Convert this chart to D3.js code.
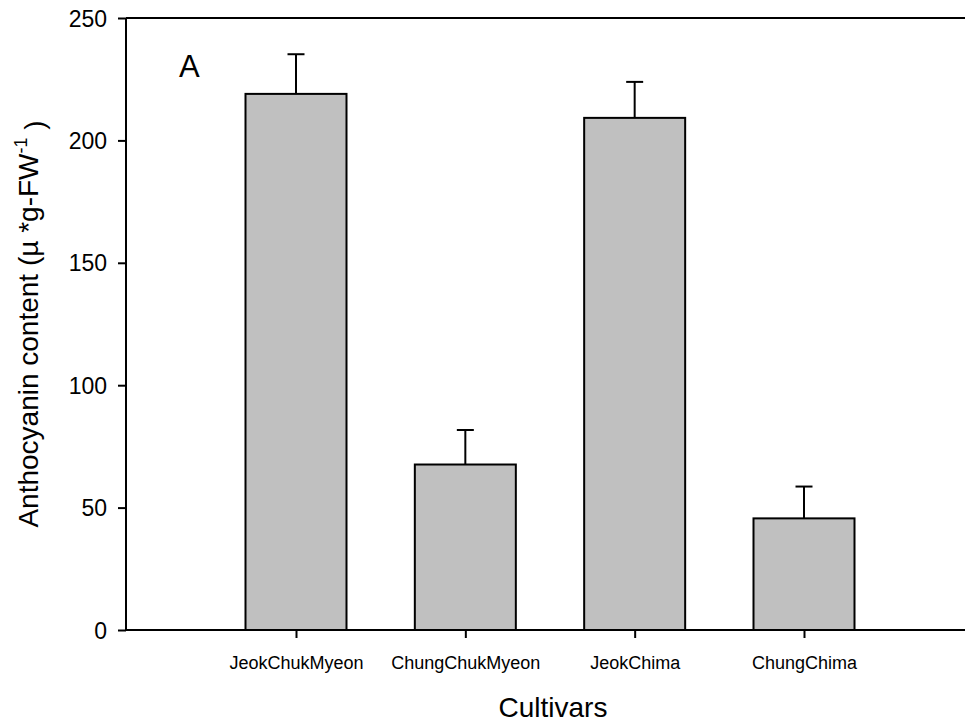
<!DOCTYPE html>
<html>
<head>
<meta charset="utf-8">
<script src="https://cdn.jsdelivr.net/npm/d3@7"></script>
<style>
  body { margin: 0; background: #fff; }
  text { font-family: 'Liberation Sans', Arial, sans-serif; fill: #000; }
</style>
</head>
<body>
<div id="chart"></div>
<script>
const cultivars = ['JeokChukMyeon', 'ChungChukMyeon', 'JeokChima', 'ChungChima']
const means = [219.0, 67.6, 209.2, 45.6]
const errors = [16.2, 14.1, 14.7, 13.0]
const yTicks = [0, 50, 100, 150, 200, 250]

const dimensions = {
  width: 965,
  height: 726,
  margin: { top: 18, right: 0, bottom: 96, left: 126 }
}

const svg = d3.select('#chart').append('svg')
  .attr('width', dimensions.width)
  .attr('height', dimensions.height)

const bottom = dimensions.height - dimensions.margin.bottom

const y = d3.scaleLinear()
  .domain([0, 250])
  .range([bottom, dimensions.margin.top])

const x = d3.scalePoint()
  .domain(cultivars)
  .range([296, 804])

const barWidth = 101
const capWidth = 17

const data = cultivars.map((c, i) => ({ name: c, mean: means[i], err: errors[i] }))

// error bars (upper only), drawn under the bars
svg.append('g')
  .selectAll('g')
  .data(data)
  .join('g')
  .each(function (d) {
    const g = d3.select(this)
    g.append('line')
      .attr('x1', x(d.name)).attr('x2', x(d.name))
      .attr('y1', y(d.mean)).attr('y2', y(d.mean + d.err))
      .attr('stroke', '#000').attr('stroke-width', 2)
    g.append('line')
      .attr('x1', x(d.name) - capWidth / 2).attr('x2', x(d.name) + capWidth / 2)
      .attr('y1', y(d.mean + d.err)).attr('y2', y(d.mean + d.err))
      .attr('stroke', '#000').attr('stroke-width', 2)
  })

svg.append('g')
  .selectAll('rect')
  .data(data)
  .join('rect')
  .attr('x', d => x(d.name) - barWidth / 2)
  .attr('y', d => y(d.mean))
  .attr('width', barWidth)
  .attr('height', d => y(0) - y(d.mean))
  .attr('fill', '#c0c0c0')
  .attr('stroke', '#000')
  .attr('stroke-width', 2)

// y axis
const yAxis = svg.append('g')
  .attr('transform', `translate(${dimensions.margin.left},0)`)
  .call(d3.axisLeft(y).tickValues(yTicks).tickSize(8).tickPadding(11).tickFormat(d3.format('d')))
yAxis.select('.domain').attr('stroke-width', 2).attr('d', `M0,${bottom}V${dimensions.margin.top}`)
yAxis.selectAll('.tick line').attr('stroke-width', 2)
yAxis.selectAll('.tick text').style('font-size', '23px').attr('dy', '0.35em')

// top frame line
svg.append('line')
  .attr('x1', dimensions.margin.left).attr('x2', dimensions.width)
  .attr('y1', y(250)).attr('y2', y(250))
  .attr('stroke', '#000').attr('stroke-width', 2)

// x axis
const xAxis = svg.append('g')
  .attr('transform', `translate(0,${bottom})`)
  .call(d3.axisBottom(x).tickSize(8).tickPadding(18))
xAxis.select('.domain').attr('stroke-width', 2).attr('d', `M${dimensions.margin.left},0H${dimensions.width}`)
xAxis.selectAll('.tick line').attr('stroke-width', 2)
xAxis.selectAll('.tick text').style('font-size', '18px')

// panel letter
svg.append('text')
  .attr('x', 179)
  .attr('y', 77)
  .style('font-size', '31px')
  .text('A')

// axis titles
svg.append('text')
  .attr('x', 553)
  .attr('y', 717)
  .attr('text-anchor', 'middle')
  .style('font-size', '28px')
  .text('Cultivars')

const yTitle = svg.append('text')
  .attr('transform', `translate(38,${(bottom + dimensions.margin.top) / 2}) rotate(-90)`)
  .attr('text-anchor', 'middle')
  .style('font-size', '28px')
yTitle.append('tspan').text('Anthocyanin content (\u00b5 *g-FW')
yTitle.append('tspan').attr('dy', '-0.6em').style('font-size', '18px').text('-1')
yTitle.append('tspan').attr('dy', '0.6em').text(' )')
</script>
</body>
</html>
